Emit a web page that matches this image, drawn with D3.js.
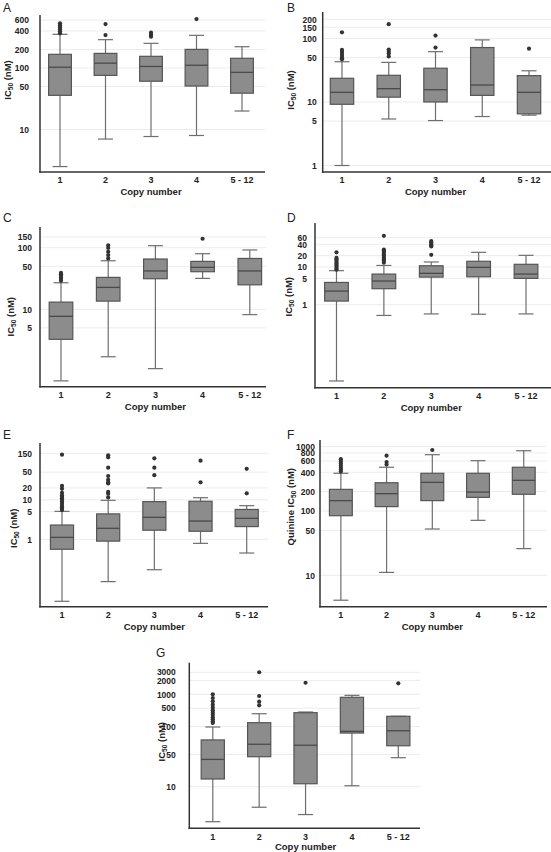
<!DOCTYPE html>
<html><head><meta charset="utf-8">
<script src="https://cdn.jsdelivr.net/npm/d3@7"></script>
<style>
html,body{margin:0;padding:0;background:#fff;}
svg{display:block;font-family:"Liberation Sans",Arial,sans-serif;}
</style></head>
<body>
<svg id="chart" width="551" height="852"></svg>
<script>
// ---------- DATA ----------
const categories = ["1", "2", "3", "4", "5 - 12"];

// each box: [whiskerLow, Q1, median, Q3, whiskerHigh]
const boxA = [[2.5, 36, 103, 167, 353], [7.0, 76, 120, 173, 289], [7.7, 61, 106, 155, 252], [8.0, 51, 111, 201, 340], [20, 39, 85, 144, 222]];
const outA = [[533, 494, 459, 426, 396, 367], [519, 344], [375, 348, 323], [626], []];
const ticksA = [10, 50, 100, 200, 400, 600];

const boxB = [[1.0, 9.2, 14.2, 23.6, 43], [5.4, 11.9, 16.2, 26.3, 42], [5.1, 10, 15.6, 34, 62], [5.9, 12.7, 18.5, 72, 95], [6.2, 6.5, 14.2, 26, 31]];
const outB = [[125, 66, 62, 57, 53, 49, 47], [168, 67, 62, 58, 52], [111, 72], [], [69]];
const ticksB = [1, 5, 10, 50, 100, 150, 200];

const boxC = [[0.69, 3.26, 7.7, 13.1, 27], [1.7, 13.6, 22.7, 33, 61.5], [1.09, 31.4, 42, 65.6, 108], [31.8, 40.8, 48, 60, 80], [8.2, 25, 42, 67, 92]];
const outC = [[39, 37, 35, 33, 31, 29], [109, 99, 86, 76, 67], [], [140], []];
const ticksC = [5, 10, 50, 100, 150];

const boxD = [[0.0095, 1.25, 2.3, 3.9, 8], [0.52, 2.66, 4.25, 6.5, 11], [0.57, 5.4, 6.8, 10.8, 13.6], [0.56, 5.5, 9.8, 14.2, 24.5], [0.57, 5.0, 6.5, 11.8, 20.4]];
const outD = [[24.5, 17.5, 16, 14.5, 13, 12, 11, 10, 9, 8.5], [67, 29, 27, 25, 22, 20, 18, 16, 14.5, 13], [49, 45, 41, 38, 35, 21], [], []];
const ticksD = [1, 5, 10, 20, 40, 60];

const boxE = [[0.027, 0.56, 1.12, 2.3, 5.1], [0.085, 0.9, 1.9, 4.4, 9.7], [0.17, 1.7, 3.6, 9, 20], [0.79, 1.6, 2.9, 9.2, 11.3], [0.45, 2.1, 3.4, 5.7, 7.1]];
const outE = [[139, 22.4, 19, 15, 13, 12, 11, 10, 9, 8, 7, 6.5, 6, 5.5], [134, 119, 65, 40, 32, 28, 26, 15.8, 14.3, 11.5], [112, 65, 42], [98, 27.7], [61, 14.6]];
const ticksE = [1, 5, 10, 20, 50, 150];

const boxF = [[4.1, 84.5, 145, 217, 386], [11.1, 117, 186, 275, 479], [52.5, 145, 279, 386, 751], [71.6, 163, 197, 386, 606], [26, 182, 300, 479, 866]];
const outF = [[640, 590, 550, 510, 470, 440, 410], [725, 578, 527], [889], [], []];
const ticksF = [10, 50, 100, 200, 400, 600, 800, 1000];

const boxG = [[1.75, 14.7, 39, 103, 196], [3.6, 44.6, 83, 243, 380], [2.5, 11.6, 79, 400, 414], [10.5, 145, 158, 861, 950], [42.5, 77, 163, 334, 334]];
const outG = [[1000, 832, 708, 596, 513, 450, 400, 360, 320, 290, 260, 240], [3000, 918, 692, 578], [1778], [], [1730]];
const ticksG = [10, 50, 200, 500, 1000, 2000, 3000];
const tickLabelsG = ["10", "50", "100", "500", "1000", "2000", "3000"];

// ---------- LAYOUT ----------
const panels = [
  {letter: "A", lx: 3, ly: 12, box: boxA, out: outA, ticks: ticksA, axisX: 40, top: 15, bottom: 172, right: 265,
   band: [37.25, 264.75], dom: [2.04, 728], pad: 11, yl: {x: 7, y: 80}, prefix: "", tOff: 23},
  {letter: "B", lx: 287, ly: 12, box: boxB, out: outB, ticks: ticksB, axisX: 322.7, top: 12, bottom: 172, right: 551,
   band: [318.6, 552.4], dom: [0.79, 261], pad: 6, yl: {x: 290, y: 90}, prefix: "", tOff: 23},
  {letter: "C", lx: 3, ly: 222, box: boxC, out: outC, ticks: ticksC, axisX: 40, top: 227, bottom: 386.7, right: 266,
   band: [37.4, 273.4], dom: [0.555, 217], pad: 8, yl: {x: 10, y: 316.7}, prefix: "", tOff: 23},
  {letter: "D", lx: 287, ly: 222, box: boxD, out: outD, ticks: ticksD, axisX: 315, top: 223, bottom: 387.7, right: 551,
   band: [312.8, 549.7], dom: [0.0063, 147], pad: 8, yl: {x: 288.3, y: 296.7}, prefix: "", tOff: 23},
  {letter: "E", lx: 3, ly: 439, box: boxE, out: outE, ticks: ticksE, axisX: 40, top: 443, bottom: 606.7, right: 268,
   band: [38.9, 269.8], dom: [0.0197, 274], pad: 8, yl: {x: 13.3, y: 528.3}, prefix: "", tOff: 23},
  {letter: "F", lx: 287, ly: 439, box: boxF, out: outF, ticks: ticksF, axisX: 320, top: 440, bottom: 606.7, right: 547,
   band: [318, 546.6], dom: [3.25, 1271], pad: 5, yl: {x: 290, y: 506.7}, prefix: "Quinine ", tOff: 23},
  {letter: "G", lx: 156, ly: 657, box: boxG, out: outG, ticks: ticksG, labels: tickLabelsG, axisX: 189.3, top: 662.7, bottom: 828.3, right: 420,
   band: [189.6, 421.5], dom: [1.26, 4830], pad: 13.5, yl: {x: 161.7, y: 741.7}, prefix: "", tOff: 21.2}
];

const svg = d3.select("#chart");
const boxFill = "#8c8c8c", boxStroke = "#555", whiskerCol = "#6e6e6e";

panels.forEach(p => {
  const g = svg.append("g");
  const y = d3.scaleLog().domain(p.dom).range([p.bottom, p.top]);
  const x = d3.scaleBand().domain(categories).range(p.band).padding(0);
  const bw = x.bandwidth();
  const boxW = bw * 0.5, capW = 15;

  // panel letter
  g.append("text").attr("x", p.lx).attr("y", p.ly).attr("font-size", 12).attr("fill", "#222").text(p.letter);

  // gridlines
  g.selectAll("line.grid").data(p.ticks).enter().append("line")
    .attr("x1", p.axisX).attr("x2", p.right)
    .attr("y1", d => y(d)).attr("y2", d => y(d))
    .attr("stroke", "#ececec").attr("stroke-width", 1);

  // y axis labels
  const labels = p.labels;
  const yAxis = d3.axisLeft(y).tickValues(p.ticks).tickSize(0).tickPadding(p.pad)
    .tickFormat((d, i) => labels ? labels[i] : String(d));
  const ya = g.append("g").attr("transform", `translate(${p.axisX},0)`).call(yAxis);
  ya.select(".domain").remove();
  ya.selectAll("text").attr("font-size", 8.5).attr("font-weight", "bold").attr("fill", "#222")
    .attr("font-family", "Liberation Sans, Arial, sans-serif");

  // x axis labels
  const xAxis = d3.axisBottom(x).tickSize(0).tickPadding(5);
  const xa = g.append("g").attr("transform", `translate(0,${p.bottom})`).call(xAxis);
  xa.select(".domain").remove();
  xa.selectAll("text").attr("font-size", 9).attr("font-weight", "bold").attr("fill", "#222")
    .attr("font-family", "Liberation Sans, Arial, sans-serif");

  // boxes
  categories.forEach((c, i) => {
    const [lo, q1, med, q3, hi] = p.box[i];
    const cx = x(c) + bw / 2;
    const bg = g.append("g");
    bg.append("line").attr("x1", cx).attr("x2", cx).attr("y1", y(lo)).attr("y2", y(q1))
      .attr("stroke", whiskerCol).attr("stroke-width", 1.2);
    bg.append("line").attr("x1", cx).attr("x2", cx).attr("y1", y(q3)).attr("y2", y(hi))
      .attr("stroke", whiskerCol).attr("stroke-width", 1.2);
    bg.append("line").attr("x1", cx - capW / 2).attr("x2", cx + capW / 2).attr("y1", y(lo)).attr("y2", y(lo))
      .attr("stroke", whiskerCol).attr("stroke-width", 1.2);
    bg.append("line").attr("x1", cx - capW / 2).attr("x2", cx + capW / 2).attr("y1", y(hi)).attr("y2", y(hi))
      .attr("stroke", whiskerCol).attr("stroke-width", 1.2);
    bg.append("rect").attr("x", cx - boxW / 2).attr("width", boxW)
      .attr("y", y(q3)).attr("height", y(q1) - y(q3))
      .attr("fill", boxFill).attr("stroke", boxStroke).attr("stroke-width", 1.2);
    bg.append("line").attr("x1", cx - boxW / 2).attr("x2", cx + boxW / 2).attr("y1", y(med)).attr("y2", y(med))
      .attr("stroke", "#4a4a4a").attr("stroke-width", 1.3);
    bg.selectAll("circle").data(p.out[i]).enter().append("circle")
      .attr("cx", cx).attr("cy", d => y(d)).attr("r", 2.1).attr("fill", "#333");
  });

  // axis lines
  g.append("line").attr("x1", p.axisX).attr("x2", p.axisX).attr("y1", p.top).attr("y2", p.bottom + 0.75)
    .attr("stroke", "#333").attr("stroke-width", 1.5);
  g.append("line").attr("x1", p.axisX - 0.75).attr("x2", p.right).attr("y1", p.bottom).attr("y2", p.bottom)
    .attr("stroke", "#333").attr("stroke-width", 1.5);

  // axis titles
  const cxMid = (p.band[0] + p.band[1]) / 2;
  g.append("text").attr("x", cxMid).attr("y", p.bottom + p.tOff).attr("text-anchor", "middle")
    .attr("font-size", 9.5).attr("font-weight", "bold").attr("fill", "#222").text("Copy number");

  const yt = g.append("text").attr("transform", `translate(${p.yl.x + 3.5},${p.yl.y}) rotate(-90)`)
    .attr("text-anchor", "middle").attr("font-size", 9.5).attr("font-weight", "bold").attr("fill", "#222");
  yt.append("tspan").text(p.prefix + "IC");
  yt.append("tspan").attr("font-size", 6.5).attr("dy", 2).text("50");
  yt.append("tspan").attr("dy", -2).text(" (nM)");
});
</script>
</body></html>
